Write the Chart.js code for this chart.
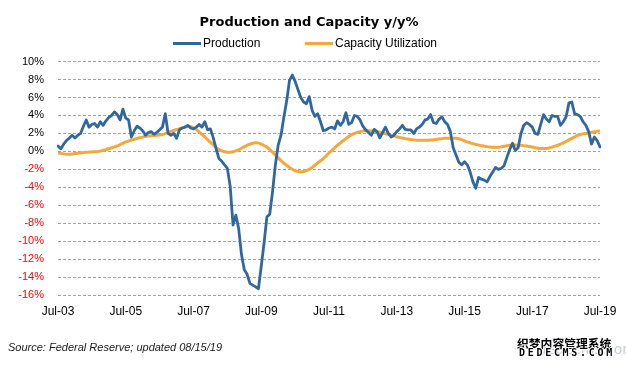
<!DOCTYPE html>
<html><head><meta charset="utf-8">
<script src="https://cdn.jsdelivr.net/npm/chart.js@4.4.1/dist/chart.umd.min.js"></script>
<style>
html,body{margin:0;padding:0;background:#fff;}
#wrap{position:relative;width:626px;height:367px;overflow:hidden;background:#fff;}
#c{position:absolute;left:0;top:0;}
#src{position:absolute;left:8px;top:341px;font:italic 11px "Liberation Sans",Arial,sans-serif;color:#1a1a1a;white-space:nowrap;}
#wmf{position:absolute;left:538px;top:341px;font:14px "DejaVu Sans",sans-serif;color:#c8ccd8;white-space:nowrap;}
#wm1{position:absolute;left:517px;top:334px;font:bold 11.8px "Noto Sans CJK SC",sans-serif;color:#000;white-space:nowrap;
 text-shadow:1px 0 #fff,-1px 0 #fff,0 1px #fff,0 -1px #fff,1px 1px #fff,-1px -1px #fff,1px -1px #fff,-1px 1px #fff;}
#wm2{position:absolute;left:519px;top:347px;font:bold 10px "DejaVu Sans Mono",monospace;letter-spacing:2.7px;color:#000;white-space:nowrap;
 text-shadow:1px 0 #fff,-1px 0 #fff,0 1px #fff,0 -1px #fff;}
</style></head><body>
<div id="wrap">
<canvas id="c" width="626" height="367"></canvas>
<div id="src">Source: Federal Reserve; updated 08/15/19</div>
<div id="wmf">dedecms.com</div>
<div id="wm1">织梦内容管理系统</div>
<div id="wm2">DEDECMS.COM</div>
</div>
<script>
// ---- data (monthly, Jul-2003 .. Jul-2019) ----
const monthNames = ['Jan','Feb','Mar','Apr','May','Jun','Jul','Aug','Sep','Oct','Nov','Dec'];
const startYear = 2003, startMonth = 6, monthCount = 193;
const tickLabels = ['Jul-03','Jul-05','Jul-07','Jul-09','Jul-11','Jul-13','Jul-15','Jul-17','Jul-19'];
const yTicks = [10,8,6,4,2,0,-2,-4,-6,-8,-10,-12,-14,-16];

const production = [
 0.6, 0.3, 0.8, 1.2, 1.5, 1.8, 1.5, 1.8, 2.0, 2.8, 3.5, 2.7,
 3.0, 3.1, 2.7, 3.3, 2.9, 3.4, 3.8, 4.0, 4.4, 4.1, 3.5, 4.7,
 3.7, 3.5, 1.6, 2.3, 2.8, 2.6, 2.3, 1.8, 2.1, 2.2, 1.9, 2.1,
 2.4, 2.7, 4.2, 2.0, 1.8, 2.0, 1.45, 2.4, 2.6, 2.7, 2.9, 2.6,
 2.5, 2.7, 3.0, 2.7, 3.3, 2.4, 2.5, 1.5, 0.3, -0.8, -1.1, -1.5,
 -1.9, -3.9, -8.2, -7.1, -8.6, -11.5, -13.2, -13.7, -14.7, -14.9, -15.1, -15.3,
 -12.8, -10.2, -7.3, -7.0, -4.5, -1.5, 0.7, 1.8, 3.8, 5.6, 7.9, 8.5,
 7.8, 6.9, 6.0, 5.5, 5.3, 6.1, 4.6, 3.9, 4.2, 3.3, 2.3, 2.4,
 2.6, 2.7, 2.5, 3.4, 2.9, 3.3, 4.3, 3.0, 3.2, 4.0, 3.9, 3.5,
 2.8, 2.4, 2.1, 1.8, 2.45, 2.2, 1.5, 2.1, 2.7, 2.0, 1.6, 1.8,
 2.2, 2.5, 2.9, 2.45, 2.4, 2.4, 2.0, 2.5, 2.7, 3.0, 3.5, 3.6,
 4.1, 3.2, 3.1, 3.6, 3.85, 3.3, 3.0, 2.2, 0.4, -0.4, -1.2, -1.5,
 -1.15, -1.5, -2.3, -3.4, -4.1, -2.9, -3.1, -3.2, -3.4, -2.8, -2.3, -1.8,
 -2.0, -1.9, -1.6, -0.7, 0.2, 0.9, 0.1, 0.4, 2.0, 2.9, 3.2, 3.0,
 2.7, 2.0, 1.9, 3.0, 4.1, 3.6, 3.3, 4.0, 3.9, 3.9, 2.9, 3.3,
 3.85, 5.4, 5.5, 4.2, 4.1, 3.9, 3.3, 2.9, 2.2, 0.8, 1.6, 1.2,
 0.5
];

const capacity = [
 -0.15, -0.22, -0.28, -0.32, -0.33, -0.30, -0.24, -0.20, -0.17, -0.13, -0.10, -0.08,
 -0.06, -0.05, -0.03, 0.03, 0.12, 0.20, 0.30, 0.40, 0.50, 0.61, 0.75, 0.90,
 1.05, 1.15, 1.25, 1.35, 1.45, 1.52, 1.60, 1.67, 1.72, 1.75, 1.77, 1.79,
 1.82, 1.88, 1.97, 2.10, 2.22, 2.33, 2.43, 2.52, 2.62, 2.72, 2.78, 2.75,
 2.62, 2.42, 2.18, 1.90, 1.62, 1.30, 1.00, 0.72, 0.45, 0.22, 0.05, -0.05,
 -0.10, -0.10, -0.05, 0.05, 0.18, 0.35, 0.52, 0.68, 0.80, 0.90, 0.95, 0.92,
 0.82, 0.65, 0.48, 0.20, -0.10, -0.40, -0.72, -1.02, -1.30, -1.55, -1.78, -2.00,
 -2.15, -2.25, -2.30, -2.25, -2.15, -2.00, -1.80, -1.55, -1.30, -1.05, -0.80, -0.50,
 -0.18, 0.10, 0.40, 0.68, 0.93, 1.18, 1.42, 1.65, 1.85, 2.00, 2.12, 2.20,
 2.28, 2.30, 2.30, 2.28, 2.25, 2.20, 2.14, 2.05, 1.96, 1.87, 1.78, 1.70,
 1.62, 1.55, 1.48, 1.42, 1.37, 1.32, 1.28, 1.25, 1.24, 1.23, 1.24, 1.25,
 1.27, 1.30, 1.34, 1.38, 1.42, 1.45, 1.46, 1.46, 1.46, 1.45, 1.40, 1.30,
 1.18, 1.05, 0.95, 0.86, 0.78, 0.70, 0.64, 0.58, 0.53, 0.49, 0.46, 0.45,
 0.46, 0.50, 0.56, 0.62, 0.67, 0.70, 0.70, 0.69, 0.67, 0.64, 0.60, 0.55,
 0.48, 0.40, 0.35, 0.32, 0.32, 0.33, 0.38, 0.48, 0.58, 0.68, 0.80, 0.95,
 1.10, 1.28, 1.45, 1.62, 1.78, 1.88, 1.95, 2.00, 2.05, 2.12, 2.18, 2.24,
 2.28
];

const seriesNames = ['Production','Capacity Utilization'];

// category labels (months)
const categories = [];
for (let i = 0; i < monthCount; i++) {
  const mi = (startMonth + i) % 12;
  const yr = startYear + Math.floor((startMonth + i) / 12);
  categories.push(monthNames[mi] + '-' + String(yr % 100).padStart(2,'0'));
}

const lineLegend = {
  id: 'lineLegend',
  afterDraw(chart, args, opts) {
    const ctx = chart.ctx;
    ctx.save();
    ctx.font = '12px "Liberation Sans", Arial, sans-serif';
    ctx.textBaseline = 'middle';
    ctx.textAlign = 'left';
    chart.data.datasets.forEach((ds, i) => {
      const x = opts.x[i], y = opts.y;
      ctx.strokeStyle = ds.borderColor;
      ctx.lineWidth = 3;
      ctx.beginPath(); ctx.moveTo(x, y); ctx.lineTo(x + 28, y); ctx.stroke();
      ctx.fillStyle = '#000';
      ctx.fillText(ds.label, x + 30, y + 0.5);
    });
    ctx.restore();
  }
};

new Chart(document.getElementById('c'), {
  type: 'line',
  data: {
    labels: categories,
    datasets: [
      { label: seriesNames[0], data: production, borderColor: '#2F67A1', borderWidth: 2.8,
        pointRadius: 0, tension: 0, borderJoinStyle: 'round', borderCapStyle: 'round' },
      { label: seriesNames[1], data: capacity, borderColor: '#F4A73B', borderWidth: 3,
        pointRadius: 0, tension: 0.3, borderJoinStyle: 'round' }
    ]
  },
  options: {
    responsive: false,
    animation: false,
    devicePixelRatio: 1,
    layout: { padding: { left: 18, right: 26, top: 0, bottom: 0 } },
    plugins: {
      legend: { display: false },
      tooltip: { enabled: false },
      title: {
        display: true,
        text: 'Production and Capacity y/y%',
        color: '#000',
        font: { family: '"DejaVu Sans", Verdana, sans-serif', size: 13, weight: 'bold' },
        padding: { top: 15, bottom: 31 }
      },
      lineLegend: { x: [173, 305], y: 43.5 }
    },
    scales: {
      x: {
        type: 'category',
        offset: false,
        grid: { display: false, drawTicks: false },
        border: { display: false },
        afterFit(scale) { scale.height = 72; },
        ticks: {
          autoSkip: false, maxRotation: 0, minRotation: 0, padding: 9,
          color: '#000',
          font: { family: '"Liberation Sans", Arial, sans-serif', size: 12 },
          callback: function(v) { const l = this.getLabelForValue(v); return tickLabels.includes(l) ? l : ''; }
        }
      },
      y: {
        min: yTicks[yTicks.length - 1], max: yTicks[0],
        afterFit(scale) { scale.width = 40; },
        grid: { color: '#a3a3a3', lineWidth: 1, drawTicks: false },
        border: { display: false, dash: [3, 2] },
        ticks: {
          stepSize: 2, padding: 14,
          font: { family: '"Liberation Sans", Arial, sans-serif', size: 11 },
          color: (c) => (c.tick && c.tick.value < 0) ? '#ff0000' : '#000000',
          callback: (v) => v + '%'
        }
      }
    }
  },
  plugins: [lineLegend]
});
</script>
</body></html>
